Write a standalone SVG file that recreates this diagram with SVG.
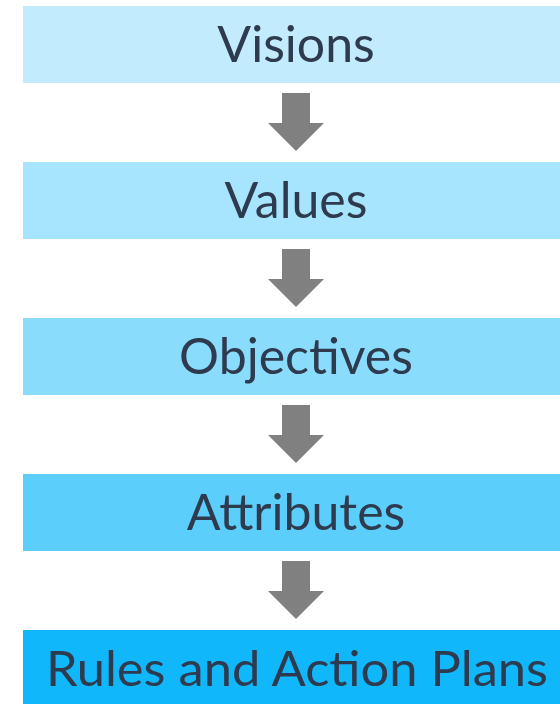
<svg xmlns="http://www.w3.org/2000/svg" width="560" height="704" viewBox="0 0 560 704">
<style>
.lbl{font-family:Lato,"Noto Sans",sans-serif;font-size:50px;fill:#2e3a4e;text-anchor:middle}
.arr{fill:#808080}
</style>
<defs>
<path id="arrow" d="M282 93 H310 V123 H324 L296 151 L268 123 H282 Z"/>
</defs>
<rect width="560" height="704" fill="#ffffff"/>
<g id="connectors">
<use href="#arrow" class="arr"/>
<use href="#arrow" class="arr" y="156"/>
<use href="#arrow" class="arr" y="312"/>
<use href="#arrow" class="arr" y="468"/>
</g>
<g id="visions"><rect x="23" y="6" width="537" height="77" fill="#c2ecfd"/><text class="lbl" x="296" y="62">Visions</text></g>
<g id="values"><rect x="23" y="162" width="537" height="77" fill="#a6e5fd"/><text class="lbl" x="296" y="218">Values</text></g>
<g id="objectives"><rect x="23" y="318" width="537" height="77" fill="#8adcfc"/><text class="lbl" x="296" y="374">Objectives</text></g>
<g id="attributes"><rect x="23" y="474" width="537" height="77" fill="#5ccefb"/><text class="lbl" x="296" y="530">Attributes</text></g>
<g id="rules"><rect x="23" y="630" width="537" height="74" fill="#10b8fb"/><text class="lbl" x="297" y="686" style="font-size:48px" textLength="502" lengthAdjust="spacingAndGlyphs">Rules and Action Plans</text></g>
</svg>
